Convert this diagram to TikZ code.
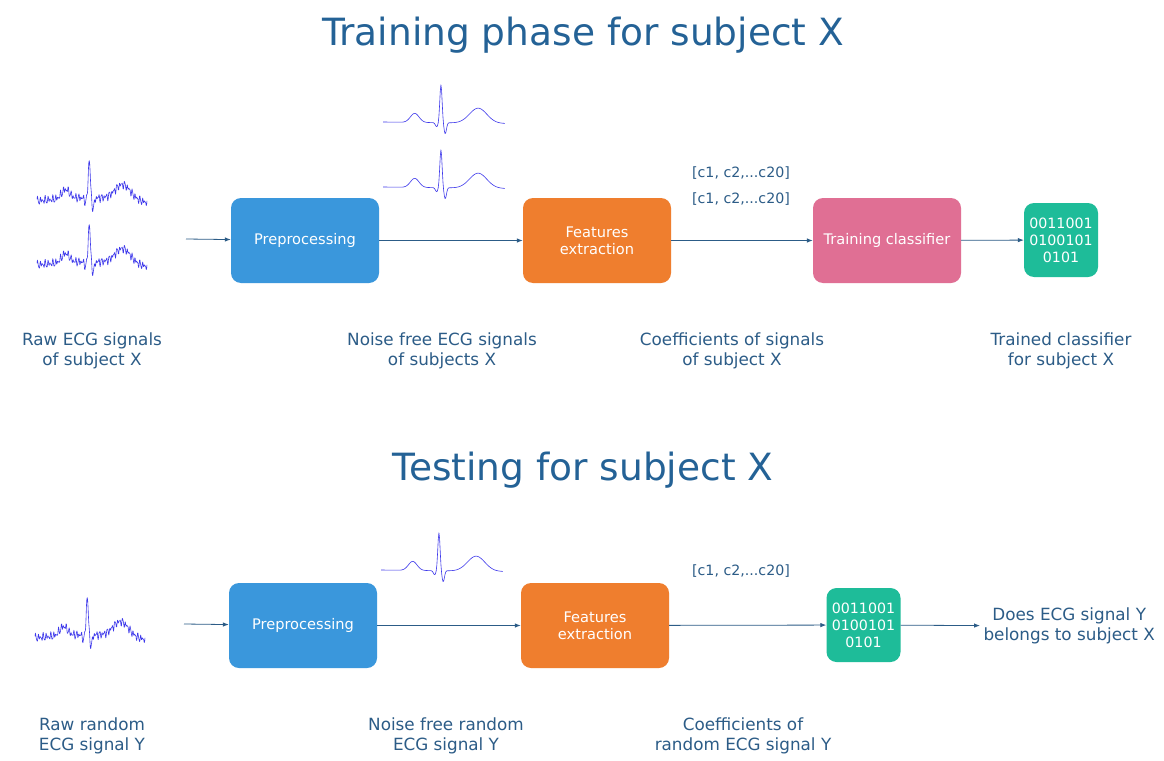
\documentclass[tikz,border=0pt]{standalone}
\usepackage{fontspec}
\setmainfont{DejaVu Sans}
\usetikzlibrary{arrows.meta}
\definecolor{boxblue}{RGB}{58,151,220}
\definecolor{boxorange}{RGB}{239,126,46}
\definecolor{boxpink}{RGB}{224,111,148}
\definecolor{boxgreen}{RGB}{30,188,153}
\definecolor{inkblue}{RGB}{44,92,135}
\definecolor{titleblue}{RGB}{36,98,150}
\definecolor{waveblue}{RGB}{60,55,235}
\tikzset{
  declare function={ecg(\t)=9*exp(-((\t-0.26)/0.05)^2)+38*exp(-((\t-0.475)/0.013)^2)
    -11*exp(-((\t-0.51)/0.014)^2)-4*exp(-((\t-0.44)/0.015)^2)+15*exp(-((\t-0.78)/0.1)^2)-1.5*\t;},
  wave/.style={waveblue,line width=0.6pt,line join=round},
  stagebox/.style={rounded corners=10pt,minimum width=148pt,minimum height=85pt,
    text=white,font=\fontsize{14.6}{17}\selectfont,align=center},
  codebox/.style={rounded corners=10pt,fill=boxgreen,minimum width=74pt,minimum height=74pt,
    text=white,font=\fontsize{14.2}{17}\selectfont,align=center,inner sep=0pt},
  caption/.style={text=inkblue,font=\fontsize{16.8}{20}\selectfont,align=center},
  coef/.style={text=inkblue,font=\fontsize{14.2}{16}\selectfont},
  heading/.style={text=titleblue,font=\fontsize{37.5}{42}\selectfont},
  flow/.style={inkblue,line width=0.8pt,-{Latex[length=6pt,width=4.5pt]}}
}
\newcommand{\cleanwave}[2]{\draw[wave,shift={(#1,#2)}] plot[domain=0:1,samples=180] ({122*\x},{-ecg(\x)});}
\newcommand{\rawwave}[2]{\draw[wave,shift={(#1,#2)}] plot[domain=0:1,samples=280]
  ({110*\x},{-ecg(\x)-2.4*sin(\x*360*43)-1.8*sin(\x*360*29+50)-1.2*sin(mod(\x*71,1)*360+20)-4*sin(\x*180)});}

\begin{document}
\begin{tikzpicture}[x=1pt,y=-1pt]
\useasboundingbox[fill=white] (0,0) rectangle (1164,760);

% training
\node[heading] (title1) at (583,35) {Training phase for subject X};
\rawwave{37}{201}
\rawwave{37}{265}
\cleanwave{383}{122}
\cleanwave{383}{187}
\coordinate (in1) at (186,239);
\node[stagebox,fill=boxblue] (pre1) at (305,240.5) {Preprocessing};
\node[stagebox,fill=boxorange] (feat1) at (597,240.5) {Features\\extraction};
\node[stagebox,fill=boxpink] (train1) at (887,240.5) {Training classifier};
\node[codebox] (code1) at (1061,240) {0011001\\0100101\\0101};
\node[coef] (c1a) at (741,173) {[c1, c2,...c20]};
\node[coef] (c1b) at (741,199) {[c1, c2,...c20]};
\draw[flow] (in1) -- (pre1);
\draw[flow] (pre1) -- (feat1);
\draw[flow] (feat1) -- (train1);
\draw[flow] (train1) -- (code1);
\node[caption] (cap1) at (92,351) {Raw ECG signals\\of subject X};
\node[caption] (cap2) at (442,351) {Noise free ECG signals\\of subjects X};
\node[caption] (cap3) at (732,351) {Coefficients of signals\\of subject X};
\node[caption] (cap4) at (1061,351) {Trained classifier\\for subject X};

% testing
\node[heading] (title2) at (583,470) {Testing for subject X};
\rawwave{35}{638}
\cleanwave{381}{570}
\coordinate (in2) at (184,624);
\node[stagebox,fill=boxblue] (pre2) at (303,625.5) {Preprocessing};
\node[stagebox,fill=boxorange] (feat2) at (595,625.5) {Features\\extraction};
\node[codebox] (code2) at (863.5,625) {0011001\\0100101\\0101};
\node[coef] (c2) at (741,571) {[c1, c2,...c20]};
\node[caption,anchor=west] (answer) at (980,626) {Does ECG signal Y\\belongs to subject X};
\draw[flow] (in2) -- (pre2);
\draw[flow] (pre2) -- (feat2);
\draw[flow] (feat2) -- (code2);
\draw[flow] (code2) -- (answer);
\node[caption] (cap5) at (92,736) {Raw random\\ECG signal Y};
\node[caption] (cap6) at (446,736) {Noise free random\\ECG signal Y};
\node[caption] (cap7) at (743,736) {Coefficients of\\random ECG signal Y};
\end{tikzpicture}
\end{document}
